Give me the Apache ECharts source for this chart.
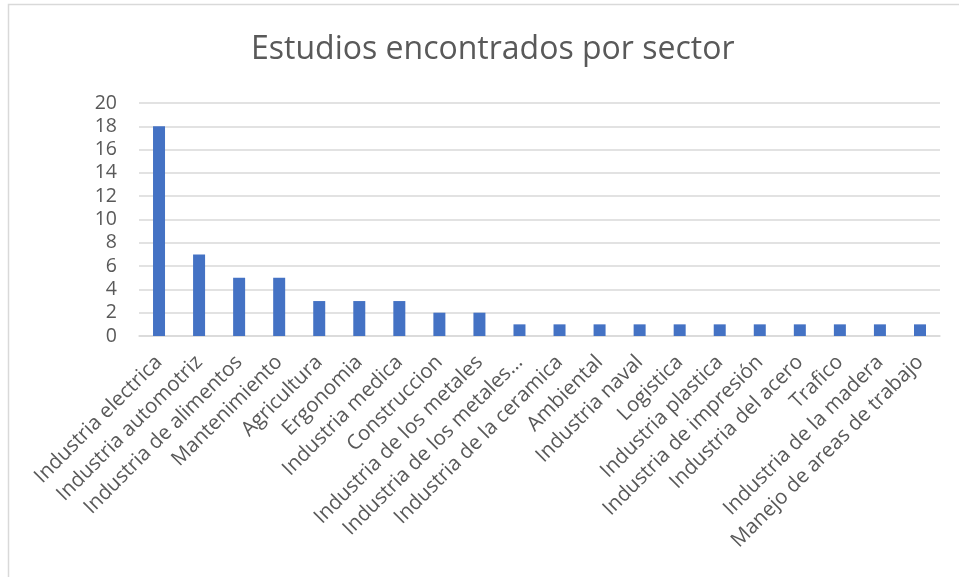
<!DOCTYPE html>
<html><head><meta charset="utf-8">
<script src="https://cdn.jsdelivr.net/npm/echarts@6/dist/echarts.min.js"></script>
<style>html,body{margin:0;padding:0;background:#fff}#c{width:959px;height:577px}</style>
</head><body><div id="c"></div>
<script>
const categories = ["Industria electrica","Industria automotriz","Industria de alimentos","Mantenimiento","Agricultura","Ergonomia","Industria medica","Construccion","Industria de los metales","Industria de los metales...","Industria de la ceramica","Ambiental","Industria naval","Logistica","Industria plastica","Industria de impresión","Industria del acero","Trafico","Industria de la madera","Manejo de areas de trabajo"];
const values = [18,7,5,5,3,3,3,2,2,1,1,1,1,1,1,1,1,1,1,1];
const yMin = 0, yMax = 20, yStep = 2;
const chart = echarts.init(document.getElementById('c'));
const font = '"Open Sans", sans-serif';
chart.setOption({
  animation:false,
  title:{text:'Estudios encontrados por sector',left:246,top:29,textStyle:{fontFamily:font,fontSize:32,fontWeight:'normal',color:'#595959'}},
  graphic:[{type:'rect',shape:{x:8.5,y:4.5,width:1000,height:600},style:{fill:'none',stroke:'#d9d9d9',lineWidth:1.5},silent:true}],
  grid:{left:139,right:19,top:103,bottom:241},
  xAxis:{type:'category',data:categories,axisTick:{show:false},axisLine:{lineStyle:{color:'#d9d9d9',width:1.5}},
    axisLabel:{rotate:45,interval:0,fontFamily:font,fontSize:20.5,color:'#595959',margin:23}},
  yAxis:{type:'value',min:yMin,max:yMax,interval:yStep,axisLine:{show:false},axisTick:{show:false},
    splitLine:{lineStyle:{color:'#d9d9d9',width:1.5}},axisLabel:{fontFamily:font,fontSize:19.5,color:'#595959',margin:22}},
  series:[{type:'bar',data:values,barWidth:12,itemStyle:{color:'#4472c4'}}]
});
</script></body></html>
